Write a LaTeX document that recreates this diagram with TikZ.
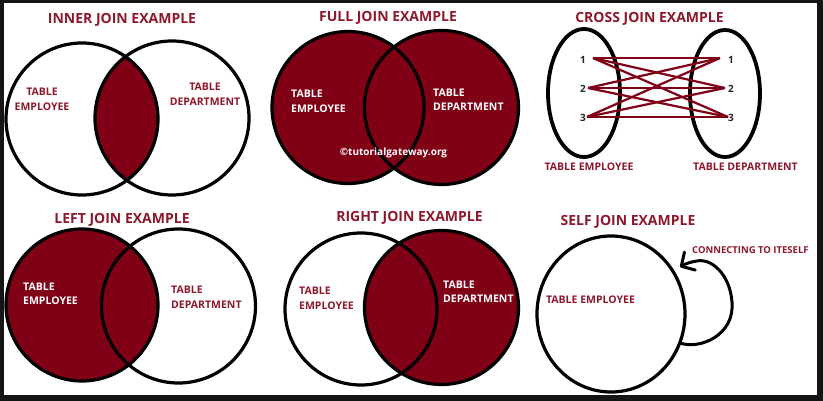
\documentclass[tikz,border=0pt]{standalone}
\usepackage{fontspec}
\setmainfont{Open Sans}
\usetikzlibrary{arrows.meta}
\definecolor{framegray}{RGB}{21,21,21}
\definecolor{joinred}{RGB}{128,0,22}
\definecolor{labelred}{RGB}{140,24,44}
\tikzset{
  jointitle/.style={font=\bfseries\fontsize{14}{16}\selectfont, text=labelred, inner sep=0},
  tablab/.style={font=\bfseries\fontsize{10.5}{14.5}\selectfont, text=labelred, inner sep=0, align=left},
  tablabw/.style={tablab, text=white},
  setline/.style={draw=black, line width=3.2pt},
  setfill/.style={fill=joinred},
  rowno/.style={font=\bfseries\fontsize{10}{12}\selectfont, text=black!85, inner sep=0},
  crossline/.style={draw=joinred, line width=2.2pt},
  loopline/.style={draw=black, line width=3pt, line cap=round,
    -{Straight Barb[length=10pt,width=21pt,round]}},
}
\begin{document}
\begin{tikzpicture}[x=1pt,y=1pt,yscale=-1]
% frame and page
\fill[framegray] (0,0) rectangle (823,401);
\fill[white] (4,3) rectangle (817,395);
\useasboundingbox (0,0) rectangle (823,401);

% ---------- INNER JOIN ----------
\begin{scope}
  \clip (82,119) circle[radius=76];
  \fill[setfill] (172,118) circle[radius=77];
\end{scope}
\draw[setline] (82,119) circle[radius=76];
\draw[setline] (172,118) circle[radius=77];
\node[jointitle] (t-inner) at (122,20) {INNER JOIN EXAMPLE};
\node[tablab, align=center] (in-emp) at (42,99.5) {TABLE\\EMPLOYEE};
\node[tablab, align=center] (in-dep) at (205,94) {TABLE\\DEPARTMENT};

% ---------- FULL JOIN ----------
\fill[setfill] (348,107.5) circle[radius=76];
\fill[setfill] (441.5,107.5) circle[radius=77];
\draw[setline] (348,107.5) circle[radius=76];
\draw[setline] (441.5,107.5) circle[radius=77];
\node[jointitle] (t-full) at (388,18) {FULL JOIN EXAMPLE};
\node[tablabw, anchor=west] (fu-emp) at (291,101.5) {TABLE\\EMPLOYEE};
\node[tablabw, anchor=west] (fu-dep) at (433,99.5) {TABLE\\DEPARTMENT};
\node[font=\bfseries\fontsize{10}{12}\selectfont, text=white, inner sep=0] (mark) at (393.5,153) {©tutorialgateway.org};

% ---------- CROSS JOIN ----------
\draw[black, line width=3.8pt] (584,93) ellipse[x radius=36, y radius=64];
\draw[black, line width=3.8pt] (725,93.5) ellipse[x radius=35, y radius=63.5];
\node[jointitle] (t-cross) at (649.5,19) {CROSS JOIN EXAMPLE};
\node[rowno] (l1) at (583,60) {1};
\node[rowno] (l2) at (583,89) {2};
\node[rowno] (l3) at (583,118) {3};
\node[rowno] (r1) at (731,60) {1};
\node[rowno] (r2) at (731,89) {2};
\node[rowno] (r3) at (731,118) {3};
\coordinate (L1) at (593,58);
\coordinate (L2) at (588,88);
\coordinate (L3) at (587,117);
\coordinate (R1) at (720,58);
\coordinate (R2) at (725,88);
\coordinate (R3) at (728,117);
\foreach \i in {1,2,3}
  \foreach \j in {1,2,3}
    \draw[crossline] (L\i) -- (R\j);
\node[tablab] (cr-emp) at (589,167) {TABLE EMPLOYEE};
\node[tablab] (cr-dep) at (745.5,167) {TABLE DEPARTMENT};

% ---------- LEFT JOIN ----------
\fill[setfill] (82,305) circle[radius=76];
\draw[setline] (82,305) circle[radius=76];
\draw[setline] (178.5,306) circle[radius=77];
\node[jointitle] (t-left) at (122,220) {LEFT JOIN EXAMPLE};
\node[tablabw, anchor=west] (le-emp) at (23,294) {TABLE\\EMPLOYEE};
\node[tablab, anchor=west] (le-dep) at (171,297) {TABLE\\DEPARTMENT};

% ---------- RIGHT JOIN ----------
\fill[setfill] (441.5,307.5) circle[radius=77];
\draw[setline] (361,309) circle[radius=76];
\draw[setline] (441.5,307.5) circle[radius=77];
\node[jointitle] (t-right) at (409.5,218) {RIGHT JOIN EXAMPLE};
\node[tablab, anchor=west] (ri-emp) at (299,298.5) {TABLE\\EMPLOYEE};
\node[tablabw, anchor=west] (ri-dep) at (443,291.5) {TABLE\\DEPARTMENT};

% ---------- SELF JOIN ----------
\draw[setline] (611,314) ellipse[x radius=74, y radius=78];
\node[jointitle] (t-self) at (628,222) {SELF JOIN EXAMPLE};
\node[tablab] (se-emp) at (590.5,300) {TABLE EMPLOYEE};
\node[tablab, font=\bfseries\fontsize{9.5}{11}\selectfont, anchor=west] (se-note) at (692,250) {CONNECTING TO ITESELF};
\coordinate (loopout) at (680,343);
\coordinate (loopin) at (680,267);
\draw[loopline] (loopout) .. controls (700,350) and (735,335) .. (732,302)
  .. controls (730,275) and (712,258) .. (697,261)
  .. controls (690,262) and (685,264) .. (loopin);
\end{tikzpicture}
\end{document}
